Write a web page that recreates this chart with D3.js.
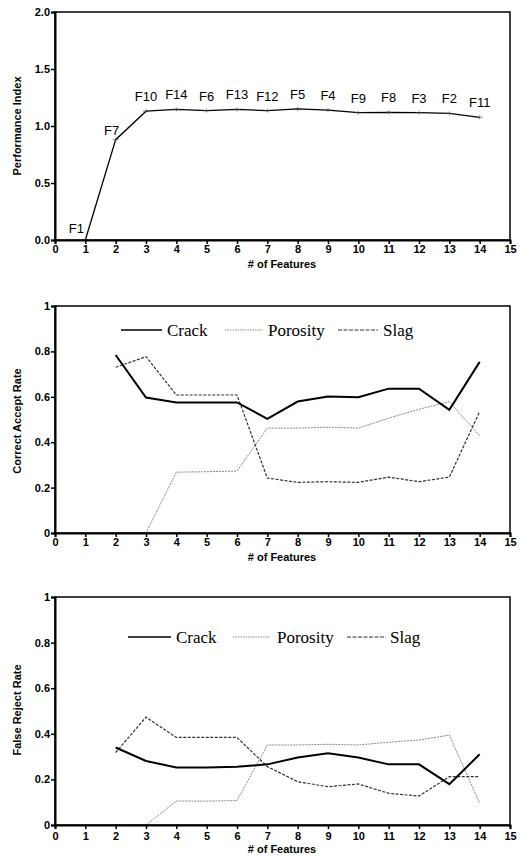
<!DOCTYPE html>
<html>
<head>
<meta charset="utf-8">
<script src="https://cdn.jsdelivr.net/npm/d3@7"></script>
<style>
  body { margin: 0; background: #fff; }
  .tick text { font-family: "Liberation Sans", Arial, sans-serif; font-weight: bold; font-size: 11px; }
  .ttl { font-family: "Liberation Sans", Arial, sans-serif; font-weight: bold; font-size: 11px; }
  .lg { font-family: "Liberation Serif", "Times New Roman", serif; font-size: 17px; }
  .flab { font-family: "Liberation Sans", Arial, sans-serif; font-size: 13px; }
</style>
</head>
<body>
<script>
// # of features on the x axis
const nFeat = [1, 2, 3, 4, 5, 6, 7, 8, 9, 10, 11, 12, 13, 14];
const perfIndex = [0.0, 0.88, 1.13, 1.145, 1.135, 1.145, 1.135, 1.15, 1.14, 1.117, 1.12, 1.117, 1.11, 1.076];
const featNames = ["F1", "F7", "F10", "F14", "F6", "F13", "F12", "F5", "F4", "F9", "F8", "F3", "F2", "F11"];

const defX = [2, 3, 4, 5, 6, 7, 8, 9, 10, 11, 12, 13, 14];
const seriesNames = ["Crack", "Porosity", "Slag"];

// correct accept rate
const caCrack    = [0.784, 0.597, 0.575, 0.575, 0.575, 0.503, 0.579, 0.601, 0.598, 0.636, 0.636, 0.543, 0.754];
const caPorosity = [0.0, 0.0, 0.268, 0.27, 0.273, 0.462, 0.462, 0.466, 0.462, 0.506, 0.545, 0.579, 0.428];
const caSlag     = [0.73, 0.777, 0.608, 0.608, 0.608, 0.242, 0.223, 0.226, 0.223, 0.246, 0.226, 0.246, 0.535];

// false reject rate
const frCrack    = [0.34, 0.281, 0.252, 0.252, 0.255, 0.266, 0.296, 0.315, 0.296, 0.266, 0.266, 0.179, 0.31];
const frPorosity = [0.0, 0.0, 0.105, 0.105, 0.107, 0.351, 0.351, 0.354, 0.351, 0.363, 0.373, 0.394, 0.095];
const frSlag     = [0.318, 0.473, 0.384, 0.384, 0.384, 0.256, 0.19, 0.168, 0.18, 0.139, 0.127, 0.212, 0.212];

const xTicks = d3.range(0, 16);
const perfTicks = [0, 0.5, 1.0, 1.5, 2.0];
const rateTicks = [0, 0.2, 0.4, 0.6, 0.8, 1];

const svg = d3.select("body").append("svg").attr("width", 524).attr("height", 856);

const styles = {
  Crack:    { stroke: "#000", width: 2, dash: null },
  Porosity: { stroke: "#8a8a8a", width: 1, dash: "2,1" },
  Slag:     { stroke: "#333", width: 1.2, dash: "3,1.5" }
};

function panel(o) {
  const x = d3.scaleLinear().domain([0, 15]).range([55, 510]);
  const y = d3.scaleLinear().domain(o.yDomain).range([o.bottom, o.top]);
  const g = svg.append("g");

  o.draw(g, x, y);

  g.append("rect")
    .attr("x", x(0)).attr("y", o.top)
    .attr("width", x(15) - x(0)).attr("height", o.bottom - o.top)
    .attr("fill", "none").attr("stroke", "#000").attr("stroke-width", 1.5);

  const xa = g.append("g").attr("transform", `translate(0,${o.bottom})`)
    .call(d3.axisBottom(x).tickValues(xTicks).tickFormat(d3.format("d")).tickSize(4).tickPadding(1 + o.xPad));
  const ya = g.append("g").attr("transform", `translate(${x(0)},0)`)
    .call(d3.axisLeft(y).tickValues(o.yTicks).tickFormat(o.yFmt).tickSize(4).tickPadding(1));
  [xa, ya].forEach(a => {
    a.select(".domain").attr("stroke-width", 2);
    a.selectAll(".tick line").attr("stroke-width", 1.5);
  });

  g.append("text").attr("class", "ttl").attr("text-anchor", "middle")
    .attr("x", 282).attr("y", o.bottom + o.titleDy).text("# of Features");
  g.append("text").attr("class", "ttl").attr("text-anchor", "middle")
    .attr("transform", `translate(21,${o.yTitleY}) rotate(-90)`).text(o.yTitle);
}

// performance index
panel({
  yDomain: [0, 2], top: 12, bottom: 240, yTicks: perfTicks, yFmt: d3.format(".1f"),
  yTitle: "Performance Index", yTitleY: 126, titleDy: 28, xPad: 0,
  draw: (g, x, y) => {
    g.append("path").datum(nFeat)
      .attr("fill", "none").attr("stroke", "#000").attr("stroke-width", 1.3)
      .attr("d", d3.line().x(d => x(d)).y((d, i) => y(perfIndex[i])));
    g.selectAll(".pm").data(nFeat).enter().append("path")
      .attr("stroke", "#444").attr("stroke-width", 0.6)
      .attr("d", (d, i) => `M${x(d) - 3},${y(perfIndex[i])}h6M${x(d)},${y(perfIndex[i]) - 2}v4`);
    g.selectAll(".flab").data(nFeat).enter().append("text")
      .attr("class", "flab").attr("text-anchor", "middle")
      .attr("x", (d, i) => x(d) - (i === 0 ? 9 : i === 1 ? 4 : 0))
      .attr("y", (d, i) => y(perfIndex[i]) - (i === 0 ? 7 : i === 1 ? 5 : 10))
      .text((d, i) => featNames[i]);
  }
});

function ratePanel(o, crack, poro, slag) {
  const vals = { Crack: crack, Porosity: poro, Slag: slag };
  panel(Object.assign(o, {
    yDomain: [0, 1], yTicks: rateTicks, yFmt: d => d === 0 || d === 1 ? String(d) : d3.format(".1f")(d),
    draw: (g, x, y) => {
      ["Porosity", "Slag", "Crack"].forEach(s => {
        const st = styles[s];
        g.append("path").datum(defX)
          .attr("fill", "none").attr("stroke", st.stroke).attr("stroke-width", st.width)
          .attr("stroke-dasharray", st.dash)
          .attr("d", d3.line().x(d => x(d)).y((d, i) => y(vals[s][i])));
      });
      const lg = g.append("g");
      seriesNames.forEach((s, i) => {
        const st = styles[s];
        const p = o.legend[i];
        lg.append("line").attr("x1", p[0]).attr("x2", p[1]).attr("y1", o.legendY).attr("y2", o.legendY)
          .attr("stroke", st.stroke).attr("stroke-width", st.width === 2 ? 1.5 : 1)
          .attr("stroke-dasharray", s === "Porosity" ? "1.5,1" : s === "Slag" ? "4,1.5" : null);
        lg.append("text").attr("class", "lg").attr("x", p[2]).attr("y", o.legendY + 6).text(s);
      });
    }
  }));
}

ratePanel({
  top: 306, bottom: 533, yTitle: "Correct Accept Rate", yTitleY: 421, titleDy: 28, xPad: 0,
  legendY: 330, legend: [[121, 162, 167], [225, 263, 268], [338, 378, 383]]
}, caCrack, caPorosity, caSlag);

ratePanel({
  top: 597, bottom: 825, yTitle: "False Reject Rate", yTitleY: 710, titleDy: 28, xPad: 2,
  legendY: 637, legend: [[128, 171, 176], [233, 270, 277], [347, 386, 390]]
}, frCrack, frPorosity, frSlag);
</script>
</body>
</html>
